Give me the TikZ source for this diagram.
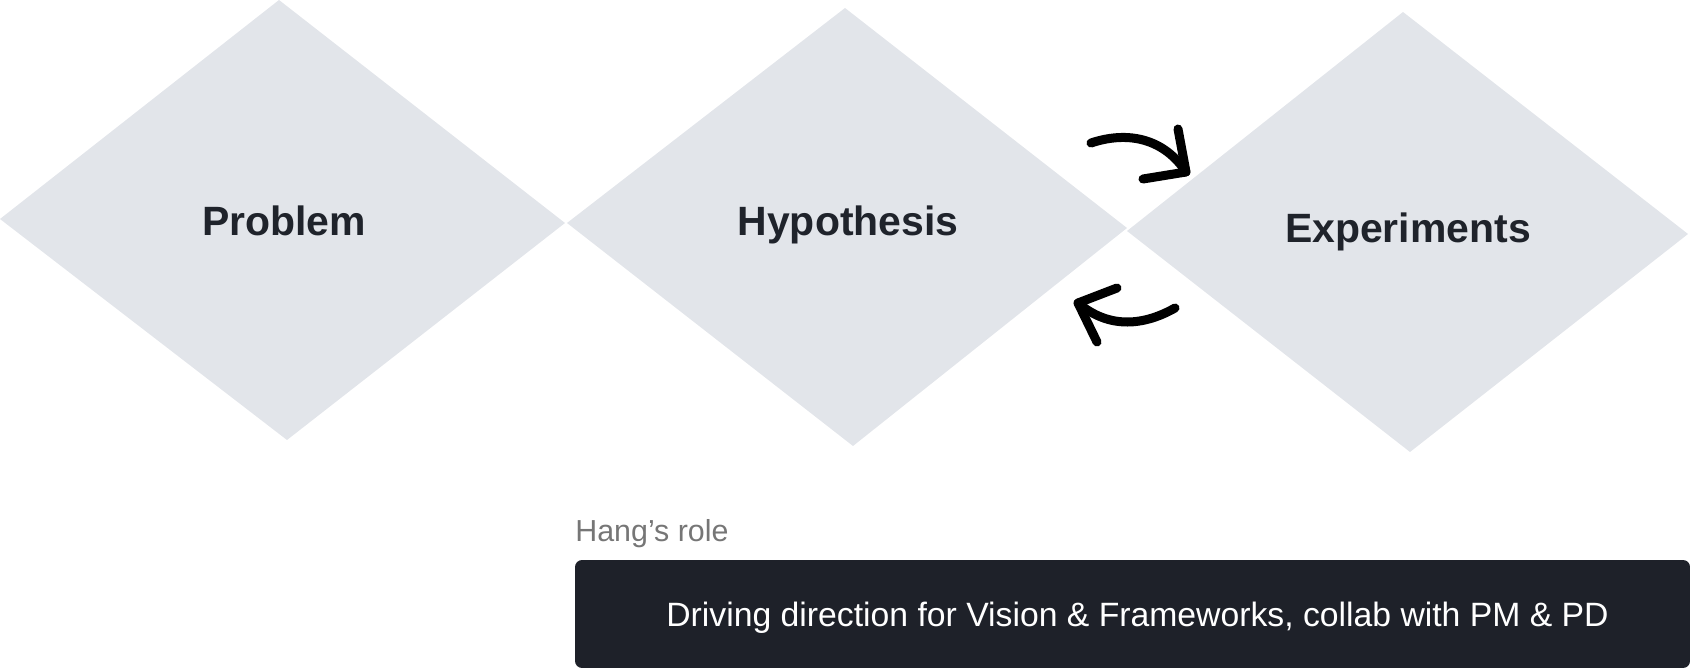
\documentclass[tikz,border=0pt]{standalone}
\usepackage{fontspec}
\setmainfont{Liberation Sans}
\usepackage{tikz}
\definecolor{dmdfill}{HTML}{E2E5EA}
\definecolor{inkdark}{HTML}{1F232B}
\definecolor{boxdark}{HTML}{1E2129}
\definecolor{rolegray}{HTML}{767676}
\tikzset{%
  stage/.style    = {fill=dmdfill, draw=none}, % diamond area
  stagelabel/.style = {anchor=base, text=inkdark,
    font=\fontsize{23.3}{26}\selectfont\bfseries},
  loop/.style     = {draw=black, line width=9pt*0.57, line cap=round,
    line join=round} % hand drawn arrow
}

\begin{document}
\begin{tikzpicture}[x=0.02cm, y=-0.02cm]
\useasboundingbox (0,0) rectangle (1690,668);

% diamonds
\fill[stage] (0,219) -- (279,0) -- (565,223) -- (287,440) -- cycle;
\fill[stage] (567,223) -- (845,8) -- (1127,228) -- (853,446) -- cycle;
\fill[stage] (1127,231) -- (1403,12) -- (1688,234) -- (1410,452) -- cycle;

\draw
    node at(284,236)[stagelabel,name=prob]{Problem}
    node at(848,236)[stagelabel,name=hyp]{Hypothesis}
    node at(1408,243)[stagelabel,name=exp]{Experiments}
;

% back and forth between hypothesis and experiments
\coordinate (fwdtail) at (1091,143);
\coordinate (fwdtip)  at (1186,172);
\coordinate (backtail) at (1175,308);
\coordinate (backtip)  at (1078,303);

\draw[loop] (fwdtail) .. controls (1130,130) and (1165,140) .. (fwdtip);
\draw[loop] (1178,129) -- (fwdtip) -- (1143,179);

\draw[loop] (backtail) .. controls (1145,325) and (1110,330) .. (backtip);
\draw[loop] (1117,288) -- (backtip) -- (1097,342);

% role
\draw
    node at(575,541)[anchor=base west,inner sep=0pt,text=rolegray,
      font=\fontsize{17.3}{20}\selectfont,name=role]{Hang’s role}
;
\fill[boxdark,rounded corners=4] (575,560) rectangle (1690,668);
\draw
    node at(666,626)[anchor=base west,inner sep=0pt,text=white,
      font=\fontsize{19.2}{22}\selectfont,name=drive]{Driving direction for Vision \& Frameworks, collab with PM \& PD}
;
\end{tikzpicture}
\end{document}
